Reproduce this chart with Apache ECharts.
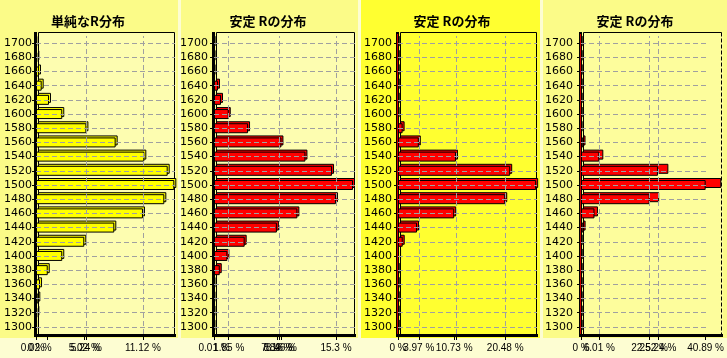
<!DOCTYPE html>
<html><head><meta charset="utf-8">
<script src="https://cdn.jsdelivr.net/npm/echarts@6/dist/echarts.min.js"></script>
<style>html,body{margin:0;padding:0;background:#fff}#c{width:727px;height:358px}</style>
</head><body><div id="c"></div>
<script>
// ---------- data ----------
const categories = ['1300','1320','1340','1360','1380','1400','1420','1440','1460','1480','1500','1520','1540','1560','1580','1600','1620','1640','1660','1680','1700'];
const titles = ['単純なR分布', '安定 Rの分布', '安定 Rの分布', '安定 Rの分布'];
const simpleR  = [0.10,0.14,0.24,0.42,1.22,2.73,5.02,8.14,11.12,13.34,14.38,13.69,11.26,8.28,5.24,2.73,1.35,0.59,0.31,0.14,0.07];
const stableR1 = [0.06,0.06,0.06,0.06,0.72,1.68,3.85,7.89,10.46,15.3,17.44,14.81,11.47,8.46,4.27,1.85,0.88,0.5,0.04,0.04,0.04];
const stableR2 = [0,0,0,0,0,0.2,0.9,3.63,10.73,20.48,26.39,21.43,11.07,3.97,0.88,0.05,0,0,0,0,0];
const stableR3 = [0,0,0,0,0,0,0,0.77,4.42,22.52,40.89,25.24,6.01,0.74,0.05,0,0,0,0,0,0];
const firstLabel = [0, 0.01, 0, 0];
const labelValues1 = [0.02, 5.02, 5.24, 11.12];
const labelValues2 = [1.85, 7.89, 8.16, 8.46, 15.3];
const labelValues3 = [3.97, 10.73, 20.48];
const labelValues4 = [6.01, 22.52, 25.24, 40.89];
const tickValues1 = [0, 0.02, 1.22, 5.02, 5.24, 11.12];
const tickValues2 = [0.01, 1.85, 7.89, 8.16, 8.46, 15.3];
const tickValues3 = [0, 3.97, 10.73, 11.07, 20.48];
const tickValues4 = [0, 6.01, 22.52, 25.24, 40.89];
const gridValues1 = [5.24, 11.12];
const gridValues2 = [1.85, 8.16, 15.3];
const gridValues3 = [3.97, 11.07, 20.48];
const gridValues4 = [6.01, 22.52, 25.24];
const axisMax = [14.45, 17.69, 26.55, 41.69];

// ---------- layout (style) ----------
const panels = [
  { x0: 36,  w: 139, px: 0,   pw: 178, tx: 88,  lm: 4, outer: '#fbfb88', inner: '#fdfdb0', color: '#ffff00', redWall: false, dashRight: false },
  { x0: 214, w: 141, px: 181, pw: 177, tx: 268, lm: 6, outer: '#fbfb88', inner: '#fdfdb0', color: '#ff0000', redWall: false, dashRight: false },
  { x0: 398, w: 139, px: 361, pw: 179, tx: 452, lm: 6, outer: '#ffff30', inner: '#ffff30', color: '#ff0000', redWall: true,  dashRight: false },
  { x0: 581, w: 141, px: 543, pw: 184, tx: 635, lm: 8, outer: '#fbfb88', inner: '#fdfd9c', color: '#ff0000', redWall: true,  dashRight: true }
];
const seriesData = [simpleR, stableR1, stableR2, stableR3];
const labelValues = [labelValues1, labelValues2, labelValues3, labelValues4];
const tickValues = [tickValues1, tickValues2, tickValues3, tickValues4];
const gridValues = [gridValues1, gridValues2, gridValues3, gridValues4];
const TOP = 36, H = 298;
const labelFont = { margin: 9, fontSize: 10, color: '#000', fontFamily: 'Liberation Sans', formatter: v => v + ' %', hideOverlap: false };

const grid = [], xAxis = [], yAxis = [], series = [], graphic = [], extraX = [];
graphic.push({ type: 'rect', z: 0, z2: 0, shape: { x: 0, y: 0, width: 727, height: 358 }, style: { fill: '#fdfdd2' } });

panels.forEach((p, i) => {
  const f = 2 * i, b = 2 * i + 1;
  grid.push({ left: p.x0, top: TOP, width: p.w, height: H });
  grid.push({ left: p.x0 + 2, top: TOP - 2, width: p.w, height: H });
  xAxis.push({
    gridIndex: f, type: 'value', min: 0, max: axisMax[i], z: 4, position: 'bottom',
    axisLine: { show: false }, splitLine: { show: false },
    axisTick: { show: true, customValues: tickValues[i], length: 6, lineStyle: { color: '#000' } },
    axisLabel: Object.assign({ customValues: labelValues[i] }, labelFont)
  });
  xAxis.push({ gridIndex: b, type: 'value', min: 0, max: axisMax[i], show: false });
  extraX.push({
    gridIndex: f, type: 'value', min: 0, max: axisMax[i], z: 4, position: 'bottom', offset: 0,
    axisLine: { show: false }, splitLine: { show: false }, axisTick: { show: false },
    axisLabel: Object.assign({ customValues: [firstLabel[i]] }, labelFont)
  });
  yAxis.push({
    gridIndex: f, type: 'category', data: categories, z: 4,
    axisLine: { show: false }, splitLine: { show: false },
    axisTick: { show: true, alignWithLabel: true, interval: 0, length: 4, lineStyle: { color: '#000' } },
    axisLabel: { interval: 0, margin: p.lm, fontSize: 11, color: '#000', fontFamily: 'DejaVu Sans' }
  });
  yAxis.push({ gridIndex: b, type: 'category', data: categories, show: false });

  series.push({
    type: 'line', xAxisIndex: f, yAxisIndex: f, data: [], z: 1, silent: true,
    markLine: {
      silent: true, symbol: ['none', 'none'], label: { show: false }, animation: false,
      lineStyle: { color: '#a0a0a0', type: [5, 3], width: 1 },
      emphasis: { disabled: true },
      data: categories.map(c => ({ yAxis: c })).concat(gridValues[i].map(v => ({ xAxis: v })))
    }
  });
  const st = { color: p.color, borderColor: '#000', borderWidth: 1 };
  series.push({ type: 'bar', xAxisIndex: b, yAxisIndex: b, data: seriesData[i], barWidth: 10, itemStyle: st, z: 2, silent: true });
  series.push({ type: 'bar', xAxisIndex: f, yAxisIndex: f, data: seriesData[i], barWidth: 10, itemStyle: st, z: 3, silent: true });

  // backgrounds
  graphic.push({ type: 'rect', z: 0, z2: 1, shape: { x: p.px, y: 0, width: p.pw, height: 338 }, style: { fill: p.outer } });
  graphic.push({ type: 'rect', z: 0, z2: 2, shape: { x: p.x0 + 2, y: 33, width: p.w - 1, height: 301 }, style: { fill: p.inner } });
  // back wall borders
  const r = p.x0 + p.w - 0.5;
  graphic.push({ type: 'polyline', z: 0, z2: 3, shape: { points: [[p.x0 + 2.5, 334], [p.x0 + 2.5, 32.5], [r, 32.5]] }, style: { stroke: '#000', lineWidth: 1, fill: null } });
  graphic.push({ type: 'line', z: 0, z2: 3, shape: { x1: r, y1: 32.5, x2: r, y2: 334 }, style: { stroke: '#000', lineWidth: 1, lineDash: p.dashRight ? [4, 2] : null } });
  // left wall and floor
  graphic.push({ type: 'rect', z: 5, shape: { x: p.x0 - 2, y: 32, width: 3, height: 305 }, style: { fill: '#000' } });
  if (p.redWall) graphic.push({ type: 'line', z: 5, z2: 1, shape: { x1: p.x0 - 0.5, y1: 34, x2: p.x0 - 0.5, y2: 334 }, style: { stroke: '#cc0000', lineWidth: 1 } });
  graphic.push({ type: 'rect', z: 5, shape: { x: p.x0 - 2, y: 334, width: p.w + 3, height: 3 }, style: { fill: '#000' } });
  // title
  graphic.push({ type: 'text', z: 5, x: p.tx, y: 21, style: { text: titles[i], align: 'center', verticalAlign: 'middle', font: 'bold 13px "Noto Sans CJK JP"', fill: '#000' } });
});

const chart = echarts.init(document.getElementById('c'), null, { renderer: 'canvas', width: 727, height: 358 });
chart.setOption({ animation: false, grid, xAxis: xAxis.concat(extraX), yAxis, series, graphic });
</script>
</body></html>
